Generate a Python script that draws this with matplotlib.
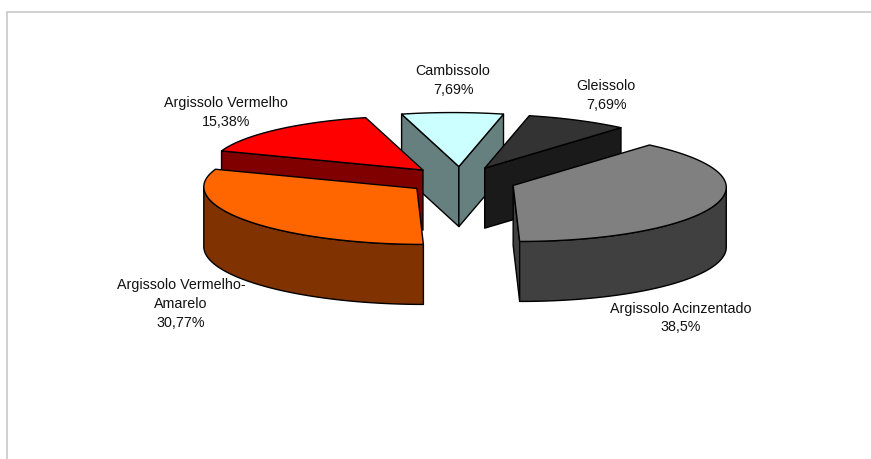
import numpy as np
import matplotlib
matplotlib.use("Agg")
import matplotlib.pyplot as plt
from matplotlib.patches import Polygon

categories = ["Argissolo Acinzentado", "Argissolo Vermelho-\nAmarelo", "Argissolo Vermelho", "Cambissolo", "Gleissolo"]
values = [38.5, 30.77, 15.38, 7.69, 7.69]
value_labels = ["38,5%", "30,77%", "15,38%", "7,69%", "7,69%"]
top_colors = ["#808080", "#FF6600", "#FF0000", "#CCFFFF", "#333333"]
side_colors = ["#404040", "#803300", "#800000", "#668080", "#1A1A1A"]
label_pos = [(681, 318), (181, 304), (226, 112.5), (453, 80.5), (606, 95.5)]
draw_order = [3, 4, 2, 0, 1]

START = 41.5
CX, CY = 461.0, 180.5
RX = 213.0
RY_BACK, RY_FRONT = 54.0, 56.0
EXPLODE = 55.0
DEPTH = 60.0
SHEAR = 0.12
OFFSET_SHEAR = 0.15

plt.rcParams["font.family"] = ["Liberation Sans", "DejaVu Sans"]
fig = plt.figure(figsize=(8.71, 4.59), dpi=100)
ax = fig.add_axes([0, 0, 1, 1])
ax.set_xlim(0, 871)
ax.set_ylim(459, 0)
ax.axis("off")

# chart frame
ax.plot([6.5, 6.5, 871], [459, 11.5, 11.5], color="#C8C8C8", lw=1.2, solid_joinstyle="miter")


def project(theta_deg, ox, oy):
    t = np.radians(theta_deg)
    c = np.cos(t)
    dx = RX * np.sin(t)
    dy = -np.where(c > 0, RY_BACK, RY_FRONT) * c
    return ox + dx + SHEAR * dy, oy + dy


shares = np.array(values) / np.sum(values) * 360
starts = START + np.concatenate([[0], np.cumsum(shares)[:-1]])
ends = starts + shares
delta = np.degrees(np.arctan(SHEAR * RY_FRONT / RX))


def poly(pts, color, z):
    ax.add_patch(Polygon(pts, closed=True, facecolor=color, edgecolor="black",
                         lw=1.0, joinstyle="round", zorder=z))


for rank, i in enumerate(draw_order):
    a0, a1 = starts[i], ends[i]
    mid = np.radians((a0 + a1) / 2)
    oy = CY - EXPLODE * np.cos(mid) * RY_BACK / RX
    ox = CX + EXPLODE * np.sin(mid) + OFFSET_SHEAR * (oy - CY)
    z = 2 + rank
    apex = np.array([ox, oy])
    down = np.array([0, DEPTH])

    # radial walls facing the viewer
    for a, is_start in ((a0, True), (a1, False)):
        rim = np.array(project(a, ox, oy), dtype=float)
        dx = rim[0] - apex[0]
        if (is_start and dx < 0) or (not is_start and dx > 0):
            poly([apex, rim, rim + down, apex + down], side_colors[i], z)

    # outer curved wall, only the part facing the viewer
    for lo, hi in ((90 + delta, 270 + delta), (450 + delta, 630 + delta)):
        b0, b1 = max(a0, lo), min(a1, hi)
        if b1 > b0:
            th = np.linspace(b0, b1, 80)
            x, y = project(th, ox, oy)
            upper = np.column_stack([x, y])
            lower = upper[::-1] + down
            poly(np.vstack([upper, lower]), side_colors[i], z)

    # top face
    th = np.linspace(a0, a1, 120)
    x, y = project(th, ox, oy)
    poly(np.vstack([[apex], np.column_stack([x, y])]), top_colors[i], z)

for name, val, (x, y) in zip(categories, value_labels, label_pos):
    ax.text(x, y, f"{name}\n{val}", ha="center", va="center", fontsize=10.3,
            color="#111111", linespacing=1.42, zorder=20)

fig.savefig("out.png", dpi=100, facecolor="white")
